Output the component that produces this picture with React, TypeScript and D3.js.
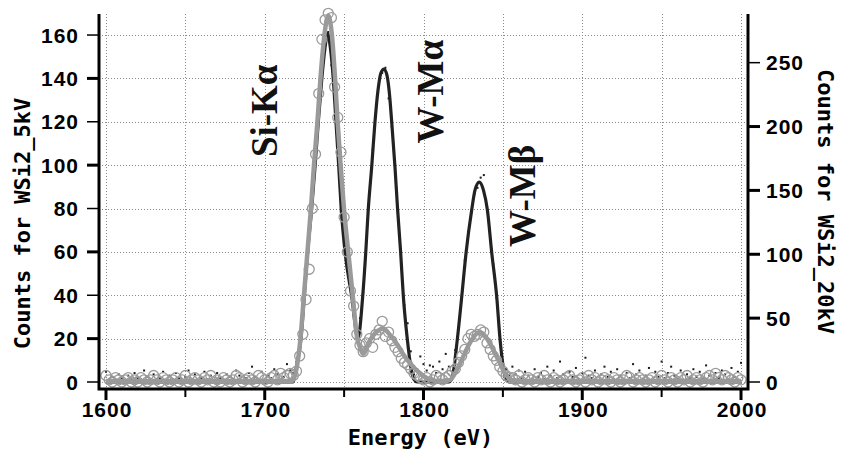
import React, { useEffect, useRef } from "react";
import * as d3 from "d3";

// channel grid of both spectra
const startEnergy = 1600;
const energyStep = 2;

// WSi2 at 5 kV, left axis (open circles)
const counts5kV = [
  3, 1, 0, 2, 1, 0, 1, 2, 0, 1,
  0, 2, 1, 0, 1, 3, 1, 0, 2, 1,
  0, 1, 2, 0, 1, 3, 0, 1, 2, 1,
  0, 2, 1, 3, 0, 1, 0, 2, 1, 0,
  1, 3, 2, 0, 1, 2, 1, 0, 3, 2,
  1, 0, 2, 3, 1, 4, 2, 3, 4,
  3, 5, 12, 22, 38, 52, 80, 105, 133, 158, 167, 170, 168, 136, 122, 106, 76, 60, 42, 35, 22, 17,
  14, 18, 20, 16, 22, 24, 28, 21, 23, 19, 16, 14, 11, 9, 8, 6, 4, 3, 2, 1,
  2, 0, 1, 3, 2, 1, 2, 3, 5, 6, 9, 12, 15, 20, 22, 21, 22, 24, 23, 18,
  15, 12, 10, 7, 5, 3, 2,
  2, 1, 3, 0, 1, 2, 1, 0, 2, 1,
  3, 1, 0, 2, 1, 0, 1, 2, 3, 1,
  0, 1, 2, 0, 3, 1, 2, 0, 1, 2,
  1, 0, 2, 1, 0, 1, 3, 2, 0, 1,
  2, 1, 0, 1, 2, 0, 1, 3, 1, 0,
  2, 1, 0, 2, 1, 3, 0, 1, 2, 1,
  0, 2, 3, 1, 4, 2, 1, 3, 2, 1,
  0, 2, 1,
];

// WSi2 at 20 kV, right axis (small dots)
const counts20kV = [
  8, 2, 4, 1, 6, 3, 0, 5, 2, 7,
  3, 1, 9, 4, 2, 6, 0, 3, 8, 1,
  5, 2, 7, 3, 0, 4, 9, 2, 6, 1,
  3, 8, 2, 5, 0, 7, 3, 1, 6, 4,
  2, 9, 5, 1, 3, 7, 12, 4, 2, 8,
  1, 5, 3, 10, 6, 2, 4, 14, 9,
  7, 16, 30, 55, 84, 118, 140, 178, 205, 240, 260, 274, 248, 223, 180, 133, 110, 88, 78, 52, 40, 50,
  70, 112, 148, 182, 210, 236, 242, 246, 222, 200, 172, 128, 92, 60, 46, 24, 6, 10, 20, 14,
  9, 13, 12, 7,
  16, 10, 22, 12, 8, 25, 42, 64, 95, 113, 134, 147, 152, 160, 162, 137, 110, 92, 66, 37,
  15, 10, 5,
  12, 6, 9, 3, 8, 5, 1, 10, 4, 7,
  2, 12, 5, 9, 3, 16, 6, 1, 8, 4,
  11, 2, 7, 19, 5, 3, 9, 1, 6, 12,
  4, 8, 2, 10, 5, 0, 7, 3, 14, 6,
  9, 2, 5, 11, 1, 8, 4, 16, 3, 7,
  12, 5, 2, 9, 1, 6, 3, 10, 4, 8,
  2, 13, 5, 1, 7, 3, 9, 6, 2, 11,
  4, 8, 15,
];

// fitted curve for 5 kV (grey, left axis)
const fit5kVEnergy = [
  1600, 1717, 1719.7, 1722.5, 1724.7, 1726.9, 1729.1, 1731, 1733.2, 1735.1, 1737.6, 1740,
  1742.3, 1744.3, 1745.9, 1747.8, 1749.9, 1752.6, 1755.4, 1758.3, 1760, 1762, 1766, 1770.5,
  1774.7, 1778.5, 1783, 1787, 1791.5, 1797.8, 1804, 1810, 1816.7, 1820.9, 1825, 1830, 1835.3,
  1840, 1844, 1848.2, 1851.3, 1855.6, 1862, 2000,
];
const fit5kVCounts = [
  0.5, 0.5, 5, 20, 40, 60, 80, 100, 120, 140, 160, 169,
  160, 140, 120, 100, 80, 60, 40, 20, 16, 13, 19, 23.2,
  24.7, 22, 17.8, 13, 8.6, 4, 0.9, 0.4, 0.9, 5.5, 11.7, 19, 23,
  20, 14.7, 8.6, 4, 0.9, 0.5, 0.5,
];

// fitted curve for 20 kV (black, right axis)
const fit20kVEnergy = [
  1600, 1717.5, 1720, 1722.8, 1724.9, 1727, 1729.5, 1731.7, 1733.7, 1735.9, 1738, 1739.6,
  1741.3, 1743.2, 1744.9, 1746.6, 1748.2, 1750.6, 1754.8, 1758.7, 1761.7, 1763.6, 1765.2,
  1767.4, 1769.4, 1771.3, 1773.2, 1775.1, 1777, 1778.6, 1780, 1782, 1783.7, 1785.6, 1787.3,
  1789.8, 1792, 1794, 1796, 1816, 1818, 1821.3, 1824.1, 1826.8, 1830.4, 1832.4, 1835.1,
  1837.8, 1840.2, 1843, 1846.1, 1848.2, 1850.2, 1852, 1854, 2000,
];
const fit20kVCounts = [
  0, 0, 12, 33.6, 67, 101.6, 135, 169, 203, 236.7, 262, 273,
  262, 236.7, 203, 169, 135, 101.6, 67, 34, 67, 101, 135,
  169, 203, 228, 242, 245, 240, 225, 203, 169, 135, 101.6, 67,
  33.6, 12, 2, 0, 0, 3, 33.4, 67, 101, 135, 150, 156.5,
  150, 135, 101, 67, 33.6, 12, 2, 0, 0,
];

const leftTicks = [0, 20, 40, 60, 80, 100, 120, 140, 160];
const leftMajor = [20, 60, 100, 140];
const rightTicks = [0, 50, 100, 150, 200, 250];
const energyTicks = [1600, 1700, 1800, 1900, 2000];
const energyMinorTicks = [1650, 1750, 1850, 1950];
const gridEnergies = [1600, 1650, 1700, 1750, 1800, 1850, 1900, 1950, 2000];

const peakLabels = [
  { text: "Si-K\u03b1", energy: 1707.7, counts: 103.7 },
  { text: "W-M\u03b1", energy: 1812.3, counts: 110 },
  { text: "W-M\u03b2", energy: 1870.2, counts: 62.2 },
];

const W = 841;
const H = 457;
const margin = { top: 14, right: 93, bottom: 68, left: 99 };

const tickFont = "'Liberation Sans', Arial, sans-serif";
const monoFont = "'DejaVu Sans Mono', monospace";

const App = () => {
  const svgRef = useRef(null);

  useEffect(() => {
    const svg = d3.select(svgRef.current);
    svg.selectAll("*").remove();

    const x0 = margin.left;
    const x1 = W - margin.right;
    const y0 = H - margin.bottom;
    const y1 = margin.top;

    const x = d3.scaleLinear().domain([1595.6, 2004.4]).range([x0, x1]);
    const yL = d3.scaleLinear().domain([-3.23, 169.7]).range([y0, y1]);
    const yR = d3.scaleLinear().domain([-5.48, 288.1]).range([y0, y1]);

    svg.append("rect").attr("width", W).attr("height", H).attr("fill", "#fff");

    // grid
    const grid = svg.append("g").attr("stroke", "#8a8a8a").attr("stroke-width", 1).attr("stroke-dasharray", "1,2");
    grid.selectAll("line.h").data(leftTicks).enter().append("line")
      .attr("x1", x0).attr("x2", x1)
      .attr("y1", (d) => Math.round(yL(d)) + 0.5).attr("y2", (d) => Math.round(yL(d)) + 0.5);
    grid.selectAll("line.v").data(gridEnergies).enter().append("line")
      .attr("y1", y1).attr("y2", y0)
      .attr("x1", (d) => Math.round(x(d)) + 0.5).attr("x2", (d) => Math.round(x(d)) + 0.5);

    const energies = counts5kV.map((_, i) => startEnergy + i * energyStep);

    // 20 kV raw dots
    svg.append("g").selectAll("rect").data(counts20kV).enter().append("rect")
      .attr("x", (d, i) => x(energies[i]) - 1)
      .attr("y", (d) => yR(d) - 1)
      .attr("width", 2).attr("height", 2)
      .attr("fill", "#1a1a1a");

    const fit20 = fit20kVEnergy.map((e, i) => [e, fit20kVCounts[i]]);
    const fit5 = fit5kVEnergy.map((e, i) => [e, fit5kVCounts[i]]);

    svg.append("path")
      .attr("d", d3.line().x((d) => x(d[0])).y((d) => yR(d[1])).curve(d3.curveMonotoneX)(fit20))
      .attr("fill", "none").attr("stroke", "#222").attr("stroke-width", 3.2);

    svg.append("path")
      .attr("d", d3.line().x((d) => x(d[0])).y((d) => yL(d[1])).curve(d3.curveMonotoneX)(fit5))
      .attr("fill", "none").attr("stroke", "#9a9a9a").attr("stroke-width", 4.5);

    // 5 kV circles
    svg.append("g").selectAll("circle").data(counts5kV).enter().append("circle")
      .attr("cx", (d, i) => x(energies[i]))
      .attr("cy", (d) => yL(d))
      .attr("r", 5)
      .attr("fill", "none")
      .attr("stroke", "#9a9a9a")
      .attr("stroke-width", 1.3);

    // axes
    const ax = svg.append("g").attr("stroke", "#000");
    ax.selectAll("line.l").data(leftTicks).enter().append("line")
      .attr("x1", x0 - 12).attr("x2", x0)
      .attr("y1", (d) => yL(d)).attr("y2", (d) => yL(d))
      .attr("stroke-width", (d) => (leftMajor.includes(d) ? 3 : 1.5));
    ax.selectAll("line.r").data(rightTicks).enter().append("line")
      .attr("x1", x1).attr("x2", x1 + 12)
      .attr("y1", (d) => yR(d)).attr("y2", (d) => yR(d))
      .attr("stroke-width", (d) => (d === 0 || d === 250 ? 1.5 : 3));
    ax.selectAll("line.b").data(energyTicks).enter().append("line")
      .attr("x1", (d) => x(d)).attr("x2", (d) => x(d))
      .attr("y1", y0).attr("y2", y0 + 11)
      .attr("stroke-width", 3);
    ax.selectAll("line.bm").data(energyMinorTicks).enter().append("line")
      .attr("x1", (d) => x(d)).attr("x2", (d) => x(d))
      .attr("y1", y0).attr("y2", y0 + 8)
      .attr("stroke-width", 2);

    ax.append("path")
      .attr("d", `M${x0},${y1}V${y0}H${x1}V${y1}`)
      .attr("fill", "none")
      .attr("stroke-width", 3);

    const lbl = svg.append("g")
      .attr("font-family", tickFont).attr("font-weight", "bold")
      .attr("font-size", 21).attr("letter-spacing", 1).attr("fill", "#000");
    lbl.selectAll("text.l").data(leftTicks).enter().append("text")
      .attr("x", x0 - 20).attr("y", (d) => yL(d)).attr("dy", "0.36em")
      .attr("text-anchor", "end").text((d) => d);
    lbl.selectAll("text.r").data(rightTicks).enter().append("text")
      .attr("x", x1 + 18).attr("y", (d) => yR(d)).attr("dy", "0.36em")
      .attr("text-anchor", "start").text((d) => d);
    lbl.selectAll("text.b").data(energyTicks).enter().append("text")
      .attr("x", (d) => x(d) + 1).attr("y", y0 + 28)
      .attr("text-anchor", "middle").text((d) => d);

    // axis titles
    const titles = svg.append("g")
      .attr("font-family", monoFont).attr("font-weight", "bold")
      .attr("font-size", 22).attr("fill", "#000");
    titles.append("text")
      .attr("transform", `translate(30,${(y0 + y1) / 2 + 22}) rotate(-90)`)
      .attr("text-anchor", "middle").text("Counts for WSi2_5kV");
    titles.append("text")
      .attr("transform", `translate(818,${(y0 + y1) / 2}) rotate(90)`)
      .attr("text-anchor", "middle").text("Counts for WSi2_20kV");
    titles.append("text")
      .attr("x", (x0 + x1) / 2 - 3).attr("y", 445)
      .attr("text-anchor", "middle").text("Energy (eV)");

    // peak names
    svg.append("g").selectAll("text").data(peakLabels).enter().append("text")
      .attr("transform", (d) => `translate(${x(d.energy)},${yL(d.counts)}) rotate(-90)`)
      .attr("font-family", "'Liberation Serif', 'Times New Roman', serif")
      .attr("font-weight", "bold")
      .attr("font-size", 37)
      .attr("fill", "#111")
      .text((d) => d.text);
  }, []);

  return (
    <svg
      ref={svgRef}
      width={W}
      height={H}
      style={{ position: "absolute", left: 0, top: 0 }}
    ></svg>
  );
};

export default App;
